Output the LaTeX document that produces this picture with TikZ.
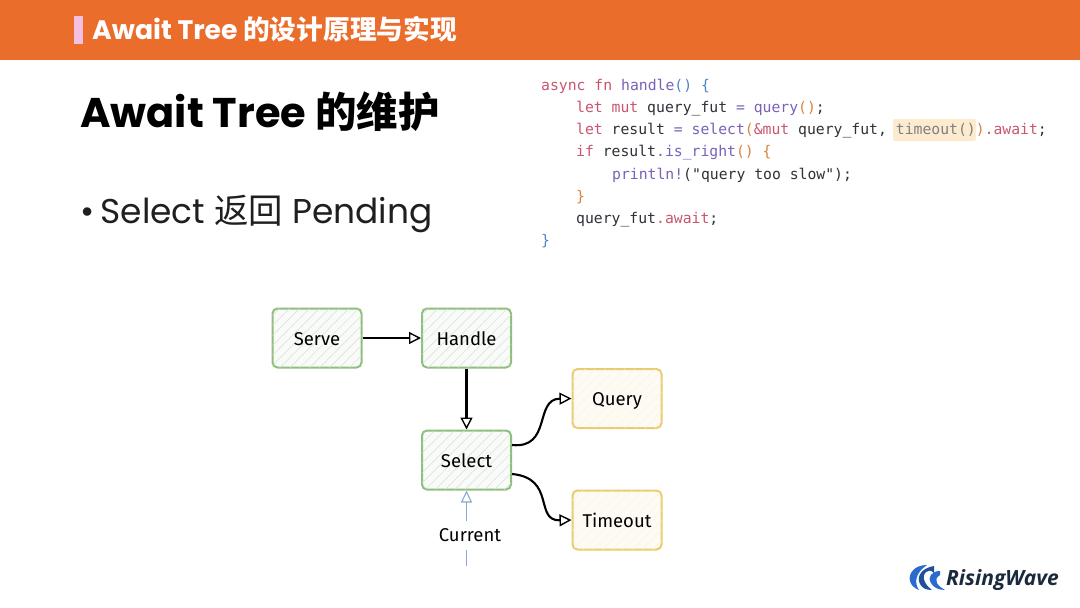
\documentclass[tikz,border=0pt]{standalone}
\usepackage{fontspec}
\setmainfont{Poppins}
\newfontfamily\cjk{Noto Sans CJK SC}
\newfontfamily\codefont{DejaVu Sans Mono}
\newfontfamily\handfont{Fira Sans}
\newfontfamily\logofont{Open Sans}
\usetikzlibrary{arrows.meta,patterns.meta}
\definecolor{hdr}{HTML}{EB6D2C}
\definecolor{barpink}{HTML}{F5BFE0}
\definecolor{kw}{HTML}{C9566E}
\definecolor{fnc}{HTML}{7A62B8}
\definecolor{brc}{HTML}{4A86C8}
\definecolor{par}{HTML}{D8843C}
\definecolor{txt}{HTML}{2E3238}
\definecolor{hl}{HTML}{FCEBCF}
\definecolor{gr}{HTML}{8FBF7C}
\definecolor{ye}{HTML}{EBCB70}
\definecolor{arrowblue}{HTML}{8CA8CC}
\definecolor{logoblue}{HTML}{2A6BD0}
\definecolor{logodark}{HTML}{1A2A3C}
\newcommand{\K}[1]{\textcolor{kw}{#1}}
\newcommand{\F}[1]{\textcolor{fnc}{#1}}
\newcommand{\B}[1]{\textcolor{brc}{#1}}
\newcommand{\Pa}[1]{\textcolor{par}{#1}}
\tikzset{
  box/.style={draw,rounded corners=5pt,line width=2pt,minimum width=89pt,minimum height=59pt,inner sep=0pt,
    text height=14pt,text depth=0pt,font=\handfont\fontsize{18.5}{20}\selectfont,text=black},
  greenbox/.style={box,draw=gr,fill=gr!6,postaction={pattern={Lines[angle=45,distance=7pt,line width=.5pt]},pattern color=black!14}},
  yellowbox/.style={box,draw=ye,fill=ye!7,postaction={pattern={Lines[angle=45,distance=7pt,line width=.4pt]},pattern color=ye!22}},
  conn/.style={draw=black,line width=2.1pt,-{Triangle[open,length=12pt,width=12pt,line width=1.4pt]}},
  codeline/.style={anchor=base west,inner sep=0pt,font=\codefont\fontsize{14.75}{16}\selectfont,text=txt},
  titletext/.style={anchor=base west,inner sep=0pt}
}
\begin{document}
\begin{tikzpicture}[x=1pt,y=-1pt]
\useasboundingbox (0,0) rectangle (1080,608);
\fill[white] (0,0) rectangle (1080,608);
\fill[hdr] (0,0) rectangle (1080,60);
\fill[barpink] (74,16) rectangle (83,44);
\node[titletext,text=white,font=\bfseries\fontsize{26.7}{30}\selectfont] (title) at (92,39) {Await Tree {\cjk 的设计原理与实现}};
\node[titletext,text=black,font=\bfseries\fontsize{41.5}{46}\selectfont] (head) at (80,127.5) {Await Tree {\cjk 的维护}};
\node[titletext,text=black!88,font=\fontsize{34.4}{40}\selectfont] (bullet) at (80,223) {•\hspace{-3pt} Select {\cjk 返回} Pending};
% code
\fill[hl,rounded corners=2pt] (893,119) rectangle (976,141);
\node[codeline] (c1) at (541,90) {\K{async} \K{fn} \F{handle}\B{()} \B{\{}};
\node[codeline] (c2) at (576,112) {\K{let} \K{mut} query\_fut \F{=} \F{query}\Pa{()}\textcolor{txt}{;}};
\node[codeline] (c3) at (576,134) {\K{let} result \F{=} \F{select}\Pa{(}\K{\&mut} query\_fut, \textcolor{gray}{timeout()}\Pa{)}\K{.await};};
\node[codeline] (c4) at (576,156) {\K{if} result\F{.is\_right}\Pa{()} \Pa{\{}};
\node[codeline] (c5) at (612,179) {\F{println!}("query too slow");};
\node[codeline] (c6) at (576,201) {\Pa{\}}};
\node[codeline] (c7) at (576,223) {query\_fut\K{.await};};
\node[codeline] (c8) at (541,245) {\B{\}}};
% diagram
\node[greenbox] (serve) at (317,338) {Serve};
\node[greenbox] (handle) at (466.5,338) {Handle};
\node[greenbox] (select) at (466.5,460) {Select};
\node[yellowbox] (query) at (617,398.5) {Query};
\node[yellowbox] (timeout) at (617,520) {Timeout};
\draw[conn] (serve) -- (handle);
\draw[conn] (handle) -- (select);
\draw[conn] ([yshift=15pt]select.east) .. controls (552,449) and (534,399) .. (query.west);
\draw[conn] ([yshift=-14pt]select.east) .. controls (556,478) and (534,521) .. (timeout.west);
\coordinate (curend) at (466.5,566);
\draw[draw=arrowblue,line width=1.5pt,-{Triangle[open,length=12pt,width=11pt,line width=1.1pt]}] (curend) -- (select.south);
\node[fill=white,inner sep=0pt,minimum width=70pt,minimum height=29pt,text=black,font=\handfont\fontsize{18.5}{20}\selectfont] (cur) at (470,535) {Current};
% logo
\fill[logoblue] (927,565) .. controls (914,565) and (908,574) .. (910,581) .. controls (911,585) and (914,588) .. (919,590) .. controls (914,583) and (915,573) .. (927,565) -- cycle;
\fill[logoblue!75!black] (934,566) .. controls (922,568) and (916,576) .. (920,584) .. controls (922,588) and (926,590) .. (932,590) .. controls (925,585) and (921,577) .. (926,572) .. controls (928,570) and (931,570) .. (934,573) -- cycle;
\fill[logoblue] (940,571) .. controls (932,571) and (927,577) .. (931,583) .. controls (933,587) and (938,590) .. (945,590) .. controls (938,586) and (932,580) .. (940,575) -- cycle;
\node[titletext,text=logodark,font=\logofont\bfseries\itshape\fontsize{21}{24}\selectfont] (logo) at (946,585) {RisingWave};
\end{tikzpicture}
\end{document}
